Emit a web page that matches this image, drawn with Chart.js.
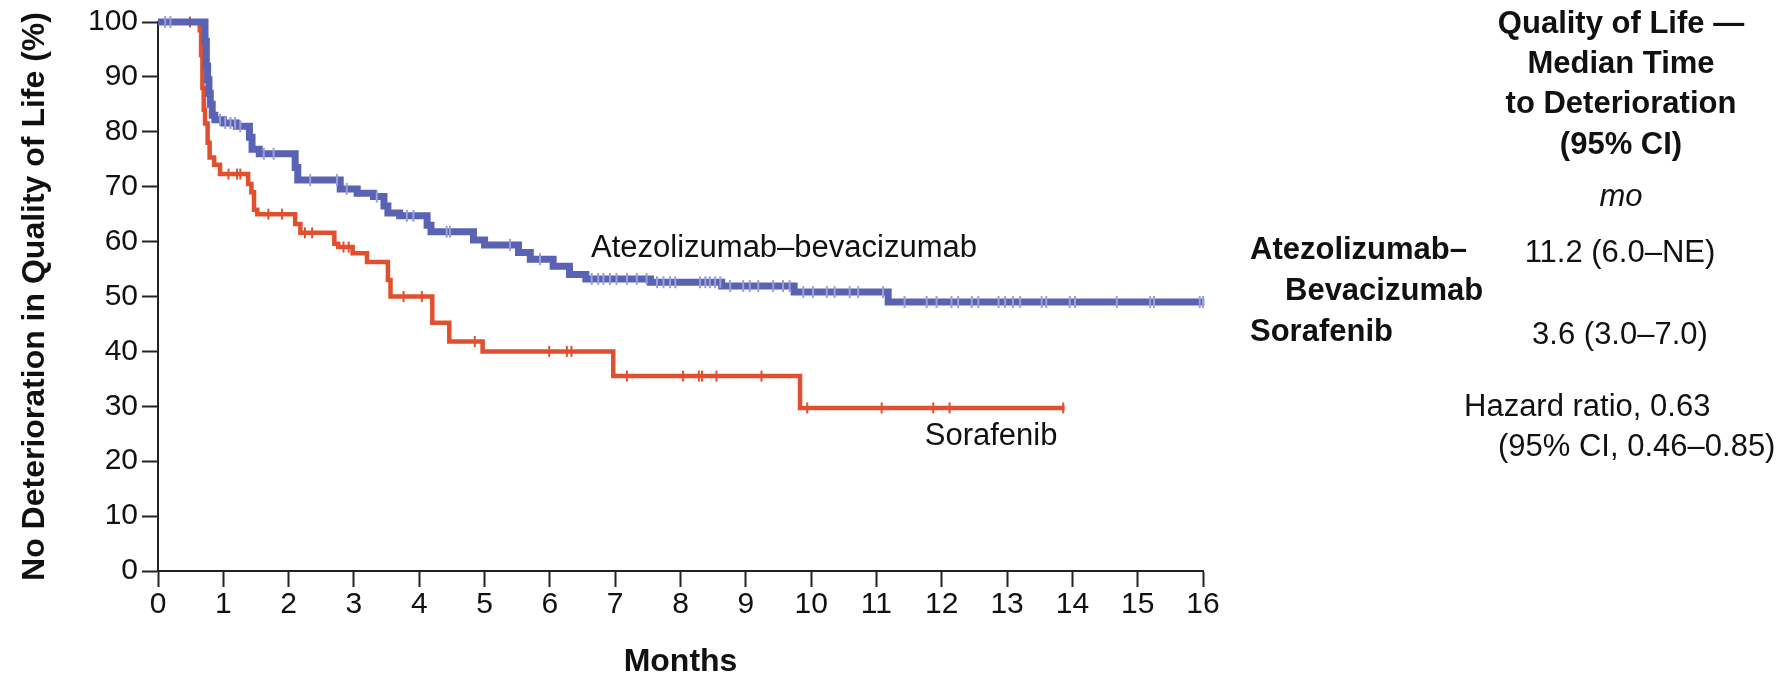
<!DOCTYPE html>
<html>
<head>
<meta charset="utf-8">
<title>Time to Deterioration in Quality of Life</title>
<script src="https://cdn.jsdelivr.net/npm/chart.js@4.4.1/dist/chart.umd.min.js"></script>
<style>
  html, body { margin: 0; padding: 0; background: #ffffff; }
  #wrap { position: relative; width: 1783px; height: 681px; overflow: hidden; }
  #km { position: absolute; left: 0; top: 0; }
  .t { position: absolute; font-family: 'Liberation Sans', Arial, sans-serif; font-size: 31px;
       line-height: 31px; color: #111111; white-space: nowrap; }
  .b { font-weight: bold; }
  .i { font-style: italic; }
  .c { transform: translateX(-50%); }
</style>
</head>
<body>
<div id="wrap">
  <canvas id="km" width="1783" height="681"></canvas>

  <!-- summary block beside the plot -->
  <div class="t b c" style="left:1621px; top:7px;">Quality of Life —</div>
  <div class="t b c" style="left:1621px; top:47px;">Median Time</div>
  <div class="t b c" style="left:1621px; top:87px;">to Deterioration</div>
  <div class="t b c" style="left:1621px; top:128px;">(95% CI)</div>
  <div class="t i c" style="left:1621px; top:180px;">mo</div>

  <div class="t b" style="left:1250px; top:233px;">Atezolizumab–</div>
  <div class="t b" style="left:1285px; top:274px;">Bevacizumab</div>
  <div class="t c" style="left:1620px; top:236px;">11.2 (6.0–NE)</div>

  <div class="t b" style="left:1250px; top:315px;">Sorafenib</div>
  <div class="t c" style="left:1620px; top:318px;">3.6 (3.0–7.0)</div>

  <div class="t" style="left:1464px; top:390px;">Hazard ratio, 0.63</div>
  <div class="t" style="left:1498px; top:430px;">(95% CI, 0.46–0.85)</div>
</div>

<script>
// ---- Kaplan–Meier step data (months, % without deterioration) ----
const atezoTimes = [0, 0.72, 0.74, 0.76, 0.78, 0.80, 0.83, 0.87, 1.00, 1.20, 1.40, 1.44, 1.55,
  2.10, 2.14, 2.79, 3.05, 3.30, 3.46, 3.52, 3.70, 4.12, 4.18, 4.83, 5.00, 5.52, 5.70, 6.05,
  6.30, 6.55, 7.54, 8.63, 9.74, 11.18, 16.02];
const atezoSurv = [100, 96.5, 92, 89.5, 87, 85, 83, 82.2, 81.6, 81.0, 79.0, 76.8, 76.0,
  73.5, 71.2, 69.6, 68.8, 68.2, 66.5, 65.2, 64.7, 63.0, 61.8, 60.3, 59.4, 58.0, 56.8, 55.5,
  54.0, 53.2, 52.6, 51.9, 50.8, 49.0, 49.0];

const sorafTimes = [0, 0.64, 0.66, 0.68, 0.70, 0.72, 0.76, 0.79, 0.86, 0.95, 1.38, 1.43, 1.47,
  1.52, 2.10, 2.18, 2.70, 2.76, 2.98, 3.20, 3.52, 3.56, 4.20, 4.46, 4.97, 6.97, 9.83, 13.88];
const sorafSurv = [100, 98.5, 94, 88, 84, 81.5, 78, 75.3, 74.0, 72.3, 70.5, 69.0, 65.8,
  65.0, 63.2, 61.6, 59.6, 59.0, 57.9, 56.3, 53.0, 50.0, 45.2, 41.8, 40.0, 35.5, 29.7, 29.7];

// censoring times (months)
const atezoCensored = [0.11, 0.19, 0.95, 1.03, 1.11, 1.18, 1.26, 1.62, 1.77, 2.33, 2.74, 2.89,
  3.35, 3.81, 3.91, 4.42, 4.47, 5.39, 5.85, 6.64, 6.74, 6.82, 6.92, 7.02, 7.18, 7.33, 7.48,
  7.64, 7.74, 7.84, 7.92, 8.30, 8.38, 8.45, 8.53, 8.61, 8.76, 8.96, 9.06, 9.19, 9.42, 9.57,
  9.67, 9.88, 10.03, 10.24, 10.36, 10.59, 10.72, 11.10, 11.43, 11.77, 11.92, 12.15, 12.25,
  12.46, 12.56, 12.87, 12.97, 13.09, 13.20, 13.53, 13.60, 13.96, 14.04, 14.68, 15.19, 15.25,
  15.95, 16.00];
const sorafCensored = [0.49, 1.08, 1.21, 1.26, 1.69, 1.90, 2.25, 2.36, 2.84, 2.92, 3.76, 4.04,
  4.85, 5.99, 6.26, 6.33, 7.18, 8.04, 8.28, 8.33, 8.55, 9.24, 9.94, 11.08, 11.87, 12.12, 13.86];

// axis ticks
const monthTicks = [0, 1, 2, 3, 4, 5, 6, 7, 8, 9, 10, 11, 12, 13, 14, 15, 16];
const percentTicks = [0, 10, 20, 30, 40, 50, 60, 70, 80, 90, 100];

// in-plot curve names, anchored in data units
const curveNames = [
  { text: 'Atezolizumab–bevacizumab', month: 6.63, pct: 58.8 },
  { text: 'Sorafenib', month: 11.74, pct: 24.5 }
];

// value of a step curve at time t
function survivalAt(times, surv, t) {
  let v = surv[0];
  for (let i = 0; i < times.length; i++) { if (times[i] <= t) v = surv[i]; else break; }
  return v;
}
const steps = (times, surv) => times.map((t, i) => ({ x: t, y: surv[i] }));
const marks = (cens, times, surv) => cens.map(t => ({ x: t, y: survivalAt(times, surv, t) }));

const BLUE = '#5a62b4';
const BLUE_TICK = '#97a0d8';
const RED = '#e0502f';
const INK = '#111111';
const AXIS = '#222222';
const TEXT_FONT = "'Liberation Sans', Arial, sans-serif";
const TICK_FONT = "'Liberation Sans Narrow', 'Liberation Sans', Arial, sans-serif";

const curveNamePlugin = {
  id: 'curveNames',
  afterDatasetsDraw(chart) {
    const { ctx, scales: { x, y } } = chart;
    ctx.save();
    ctx.font = '31px ' + TEXT_FONT;
    ctx.fillStyle = INK;
    ctx.textAlign = 'left';
    ctx.textBaseline = 'middle';
    curveNames.forEach(n => ctx.fillText(n.text, x.getPixelForValue(n.month), y.getPixelForValue(n.pct)));
    ctx.restore();
  }
};

const axisGrid = { drawOnChartArea: false, drawTicks: true, tickLength: 16, tickWidth: 2, tickColor: AXIS };
const axisBorder = { display: true, color: AXIS, width: 2 };

new Chart(document.getElementById('km'), {
  type: 'scatter',
  data: {
    datasets: [
      {
        label: 'Atezolizumab–bevacizumab censored',
        data: marks(atezoCensored, atezoTimes, atezoSurv),
        showLine: false, pointStyle: 'line', rotation: 90,
        pointRadius: 6, pointBorderWidth: 2,
        borderColor: BLUE_TICK, backgroundColor: BLUE_TICK, clip: 12
      },
      {
        label: 'Atezolizumab–bevacizumab',
        data: steps(atezoTimes, atezoSurv),
        showLine: true, stepped: 'before', pointRadius: 0,
        borderColor: BLUE, borderWidth: 7, borderJoinStyle: 'miter', borderCapStyle: 'butt',
        fill: false, clip: 12
      },
      {
        label: 'Sorafenib censored',
        data: marks(sorafCensored, sorafTimes, sorafSurv),
        showLine: false, pointStyle: 'line', rotation: 90,
        pointRadius: 5.5, pointBorderWidth: 2,
        borderColor: RED, backgroundColor: RED, clip: 12
      },
      {
        label: 'Sorafenib',
        data: steps(sorafTimes, sorafSurv),
        showLine: true, stepped: 'before', pointRadius: 0,
        borderColor: RED, borderWidth: 4.5, borderJoinStyle: 'miter', borderCapStyle: 'butt',
        fill: false, clip: 12
      }
    ]
  },
  options: {
    responsive: false,
    animation: false,
    devicePixelRatio: 1,
    layout: { padding: { left: 0, right: 580, top: 22, bottom: 0 } },
    plugins: { legend: { display: false }, tooltip: { enabled: false } },
    scales: {
      x: {
        type: 'linear', min: 0, max: 16,
        afterBuildTicks: s => { s.ticks = monthTicks.map(v => ({ value: v })); },
        afterFit: s => { s.height = 110; },
        grid: axisGrid, border: axisBorder,
        ticks: { font: { family: TICK_FONT, size: 30 }, color: INK, padding: 0, maxRotation: 0, autoSkip: false },
        title: { display: true, text: 'Months', color: INK,
                 font: { family: TEXT_FONT, size: 32, weight: 'bold' }, padding: { top: 0, bottom: 0 } }
      },
      y: {
        type: 'linear', min: 0, max: 100,
        afterBuildTicks: s => { s.ticks = percentTicks.map(v => ({ value: v })); },
        afterFit: s => { s.width = 158; },
        grid: axisGrid, border: axisBorder,
        ticks: { font: { family: TICK_FONT, size: 30 }, color: INK, padding: 4, autoSkip: false },
        title: { display: true, text: 'No Deterioration in Quality of Life (%)', color: INK,
                 font: { family: TEXT_FONT, size: 32, weight: 'bold' }, padding: { top: 16, bottom: 0 } }
      }
    }
  },
  plugins: [curveNamePlugin]
});
</script>
</body>
</html>
